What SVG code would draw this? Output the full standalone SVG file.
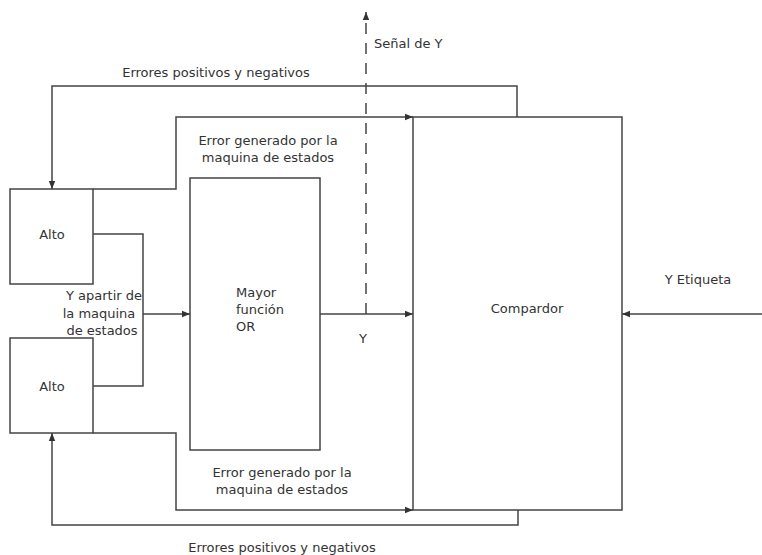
<svg xmlns="http://www.w3.org/2000/svg" width="762" height="555" viewBox="0 0 762 555">
<style>
.box{fill:#fff;stroke:#444;stroke-width:1.5}
.ln{fill:none;stroke:#444;stroke-width:1.5}
.dash{fill:none;stroke:#444;stroke-width:1.5;stroke-dasharray:11,9}
text{font-family:"DejaVu Sans",sans-serif;font-size:13px;fill:#333}
.c{text-anchor:middle}
</style>
<defs>
<marker id="ah" viewBox="0 0 10 10" refX="10" refY="5" markerWidth="8" markerHeight="8" markerUnits="userSpaceOnUse" orient="auto">
<path d="M0,1 L10,5 L0,9 Z" fill="#333"/>
</marker>
</defs>
<rect width="762" height="555" fill="#fff"/>
<g id="alto1"><rect class="box" x="10" y="189" width="83" height="95"/><text class="c" x="52" y="239">Alto</text></g>
<g id="alto2"><rect class="box" x="10" y="338" width="83" height="95"/><text class="c" x="52" y="391">Alto</text></g>
<g id="mayor"><rect class="box" x="190" y="178" width="130" height="272"/><text x="236" y="297">Mayor</text><text x="236" y="314">función</text><text x="236" y="331">OR</text></g>
<g id="comparador"><rect class="box" x="413" y="117" width="209" height="393"/><text class="c" x="527" y="313">Compardor</text></g>
<g id="connectors">
<path class="ln" d="M517,117 V86 H52 V189" marker-end="url(#ah)"/>
<path class="ln" d="M93,189 H176 V117 H413" marker-end="url(#ah)"/>
<path class="ln" d="M93,234 H143 V386 H93"/>
<path class="ln" d="M143,314 H190" marker-end="url(#ah)"/>
<path class="ln" d="M320,314 H413" marker-end="url(#ah)"/>
<path class="dash" d="M366,314 V12" marker-end="url(#ah)"/>
<path class="ln" d="M93,433 H176 V510 H413" marker-end="url(#ah)"/>
<path class="ln" d="M518,510 V525 H52 V433" marker-end="url(#ah)"/>
<path class="ln" d="M762,314 H622" marker-end="url(#ah)"/>
</g>
<g id="labels">
<text class="c" x="216" y="77">Errores positivos y negativos</text>
<text x="374" y="48">Señal de Y</text>
<text class="c" x="268" y="145">Error generado por la</text>
<text class="c" x="268" y="162">maquina de estados</text>
<text class="c" x="104" y="300">Y apartir de</text>
<text class="c" x="99" y="318">la maquina</text>
<text class="c" x="102" y="335">de estados</text>
<text class="c" x="363" y="343">Y</text>
<text class="c" x="698" y="284">Y Etiqueta</text>
<text class="c" x="282" y="477">Error generado por la</text>
<text class="c" x="282" y="494">maquina de estados</text>
<text class="c" x="282" y="552">Errores positivos y negativos</text>
</g>
</svg>
